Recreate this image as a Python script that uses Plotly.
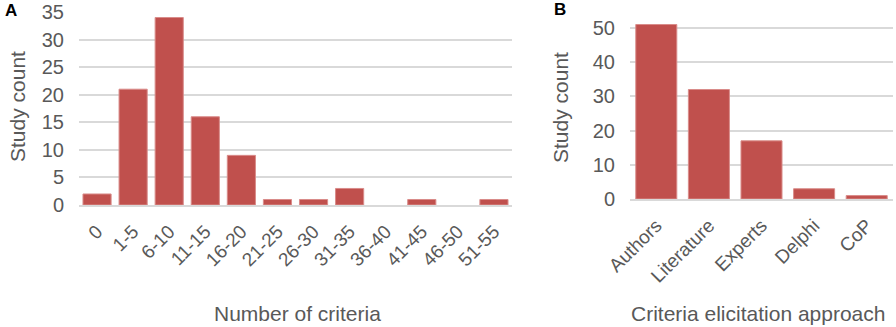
import plotly.graph_objects as go

cats_a = ["0", "1-5", "6-10", "11-15", "16-20", "21-25", "26-30", "31-35",
          "36-40", "41-45", "46-50", "51-55"]
vals_a = [2, 21, 34, 16, 9, 1, 1, 3, 0, 1, 0, 1]
cats_b = ["Authors", "Literature", "Experts", "Delphi", "CoP"]
vals_b = [51, 32, 17, 3, 1]
ticks_a = [0, 5, 10, 15, 20, 25, 30, 35]
ticks_b = [0, 10, 20, 30, 40, 50]

W, H = 896, 327
BAR = "#C0504D"
EDGE = "#D98C8A"
TXT = "#595959"
GRID = "#D9D9D9"
FONT = "Liberation Sans, Arial, sans-serif"

fig = go.Figure()
fig.add_trace(go.Bar(x=cats_a, y=vals_a,
                     marker=dict(color=BAR, line=dict(color=EDGE, width=[1 if v > 0 else 0 for v in vals_a])),
                     xaxis="x", yaxis="y", showlegend=False))
fig.add_trace(go.Bar(x=cats_b, y=vals_b,
                     marker=dict(color=BAR, line=dict(color=EDGE, width=1)),
                     xaxis="x2", yaxis="y2", showlegend=False))

def px_x(p):
    return p / W

def px_y(p):
    return 1 - p / H

axis_common = dict(showgrid=False, zeroline=False, ticks="", tickangle=-45,
                   tickfont=dict(size=19, color=TXT, family=FONT),
                   ticklabelstandoff=6,
                   showline=True, linecolor=GRID, linewidth=2, automargin=False)
yaxis_common = dict(showgrid=True, gridcolor=GRID, gridwidth=2, zeroline=False,
                    ticks="", tickfont=dict(size=20, color=TXT, family=FONT),
                    ticklabelstandoff=14,
                    showline=False, automargin=False)

fig.update_layout(
    template="none",
    width=W, height=H,
    margin=dict(l=0, r=0, t=0, b=0, pad=0),
    paper_bgcolor="white", plot_bgcolor="white",
    bargap=0.22,
    font=dict(family=FONT, color=TXT),
    xaxis=dict(domain=[px_x(79), px_x(512)], anchor="y", **axis_common),
    yaxis=dict(domain=[px_y(205), px_y(12)], anchor="x", range=[0, 35],
               tickvals=ticks_a, **yaxis_common),
    xaxis2=dict(domain=[px_x(630), px_x(893)], anchor="y2", **axis_common),
    yaxis2=dict(domain=[px_y(199), px_y(19.4)], anchor="x2", range=[0, 52.5],
                tickvals=ticks_b, **yaxis_common),
)

ann = [
    dict(text="<b>A</b>", x=px_x(11), y=px_y(11), font=dict(size=17, color="black")),
    dict(text="<b>B</b>", x=px_x(560), y=px_y(10), font=dict(size=17, color="black")),
    dict(text="Study count", x=px_x(17), y=px_y(107), textangle=-90, font=dict(size=21, color=TXT)),
    dict(text="Study count", x=px_x(560), y=px_y(108), textangle=-90, font=dict(size=21, color=TXT)),
    dict(text="Number of criteria", x=px_x(297), y=px_y(313), font=dict(size=21, color=TXT)),
    dict(text="Criteria elicitation approach", x=px_x(758), y=px_y(313), font=dict(size=21, color=TXT)),
]
for a in ann:
    a.update(xref="paper", yref="paper", showarrow=False, xanchor="center", yanchor="middle")
    a["font"]["family"] = FONT
fig.update_layout(annotations=ann)

fig.write_html("out.html", config={"displayModeBar": False},
               post_script="document.body.style.margin='0';document.body.style.overflow='hidden';")
